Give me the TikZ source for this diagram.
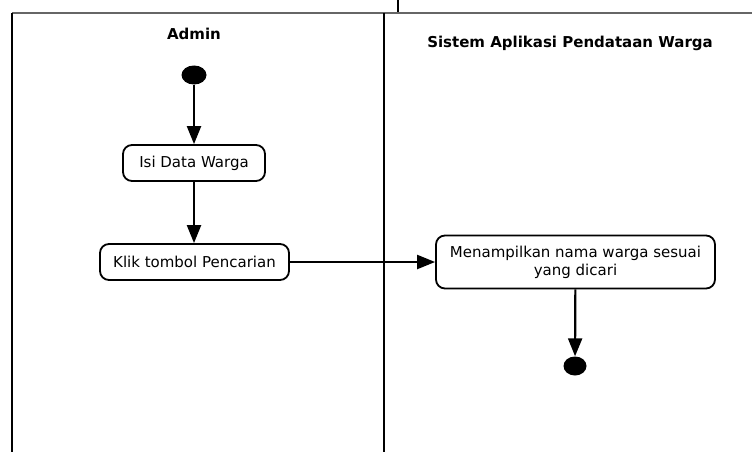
\documentclass[tikz,border=0pt]{standalone}
\usepackage{fontspec}
\setmainfont{DejaVu Sans}
\usetikzlibrary{arrows.meta,shapes.geometric}
\tikzset{
  lane/.style={line width=2.6pt,black},
  topedge/.style={line width=2pt,black!60},
  action/.style={draw,line width=1.8pt,rounded corners=9pt,fill=white,
    inner sep=0pt,align=center,font=\fontsize{15}{18}\selectfont},
  flow/.style={line width=2.2pt,-{Triangle[width=14pt,length=18pt]}},
  startnode/.style={ellipse,fill=black,minimum width=25pt,minimum height=19pt,inner sep=0pt},
  endnode/.style={ellipse,fill=black,minimum width=23pt,minimum height=19pt,inner sep=0pt},
  lanetitle/.style={font=\fontsize{15}{17}\selectfont\bfseries}
}
\begin{document}
\begin{tikzpicture}[x=1pt,y=-1pt]
  \useasboundingbox (0,0) rectangle (752,452);
  \fill[white] (0,0) rectangle (752,452);

  % swimlane frame
  \coordinate (tl) at (12,13);
  \coordinate (tr) at (752,13);
  \coordinate (bl) at (12,452);
  \coordinate (mt) at (384,13);
  \coordinate (mb) at (384,452);
  \draw[topedge] (tl) -- (tr);
  \draw[lane] (tl) -- (bl);
  \draw[lane] (mt) -- (mb);
  \coordinate (tk1) at (398,0);
  \coordinate (tk2) at (398,12);
  \draw[line width=1.2pt] (tk1) -- (tk2);

  % lane titles
  \node[lanetitle] (admin) at (194,34) {Admin};
  \node[lanetitle] (sistem) at (570,43) {Sistem Aplikasi Pendataan Warga};

  % activities
  \node[startnode] (start) at (194,75) {};
  \node[action,minimum width=142pt,minimum height=36pt] (isi) at (194,163) {Isi Data Warga};
  \node[action,minimum width=189pt,minimum height=36pt] (klik) at (194.5,262) {Klik tombol Pencarian};
  \node[action,minimum width=279pt,minimum height=53pt] (tampil) at (575.5,262)
    {Menampilkan nama warga sesuai\\yang dicari};
  \node[endnode] (end) at (575,366) {};

  % control flow
  \draw[flow] (start) -- (isi);
  \draw[flow] (isi.south) -- (isi.south |- klik.north);
  \draw[flow] (klik.east) -- (klik.east -| tampil.west);
  \draw[flow] (tampil) -- (end);
\end{tikzpicture}
\end{document}
